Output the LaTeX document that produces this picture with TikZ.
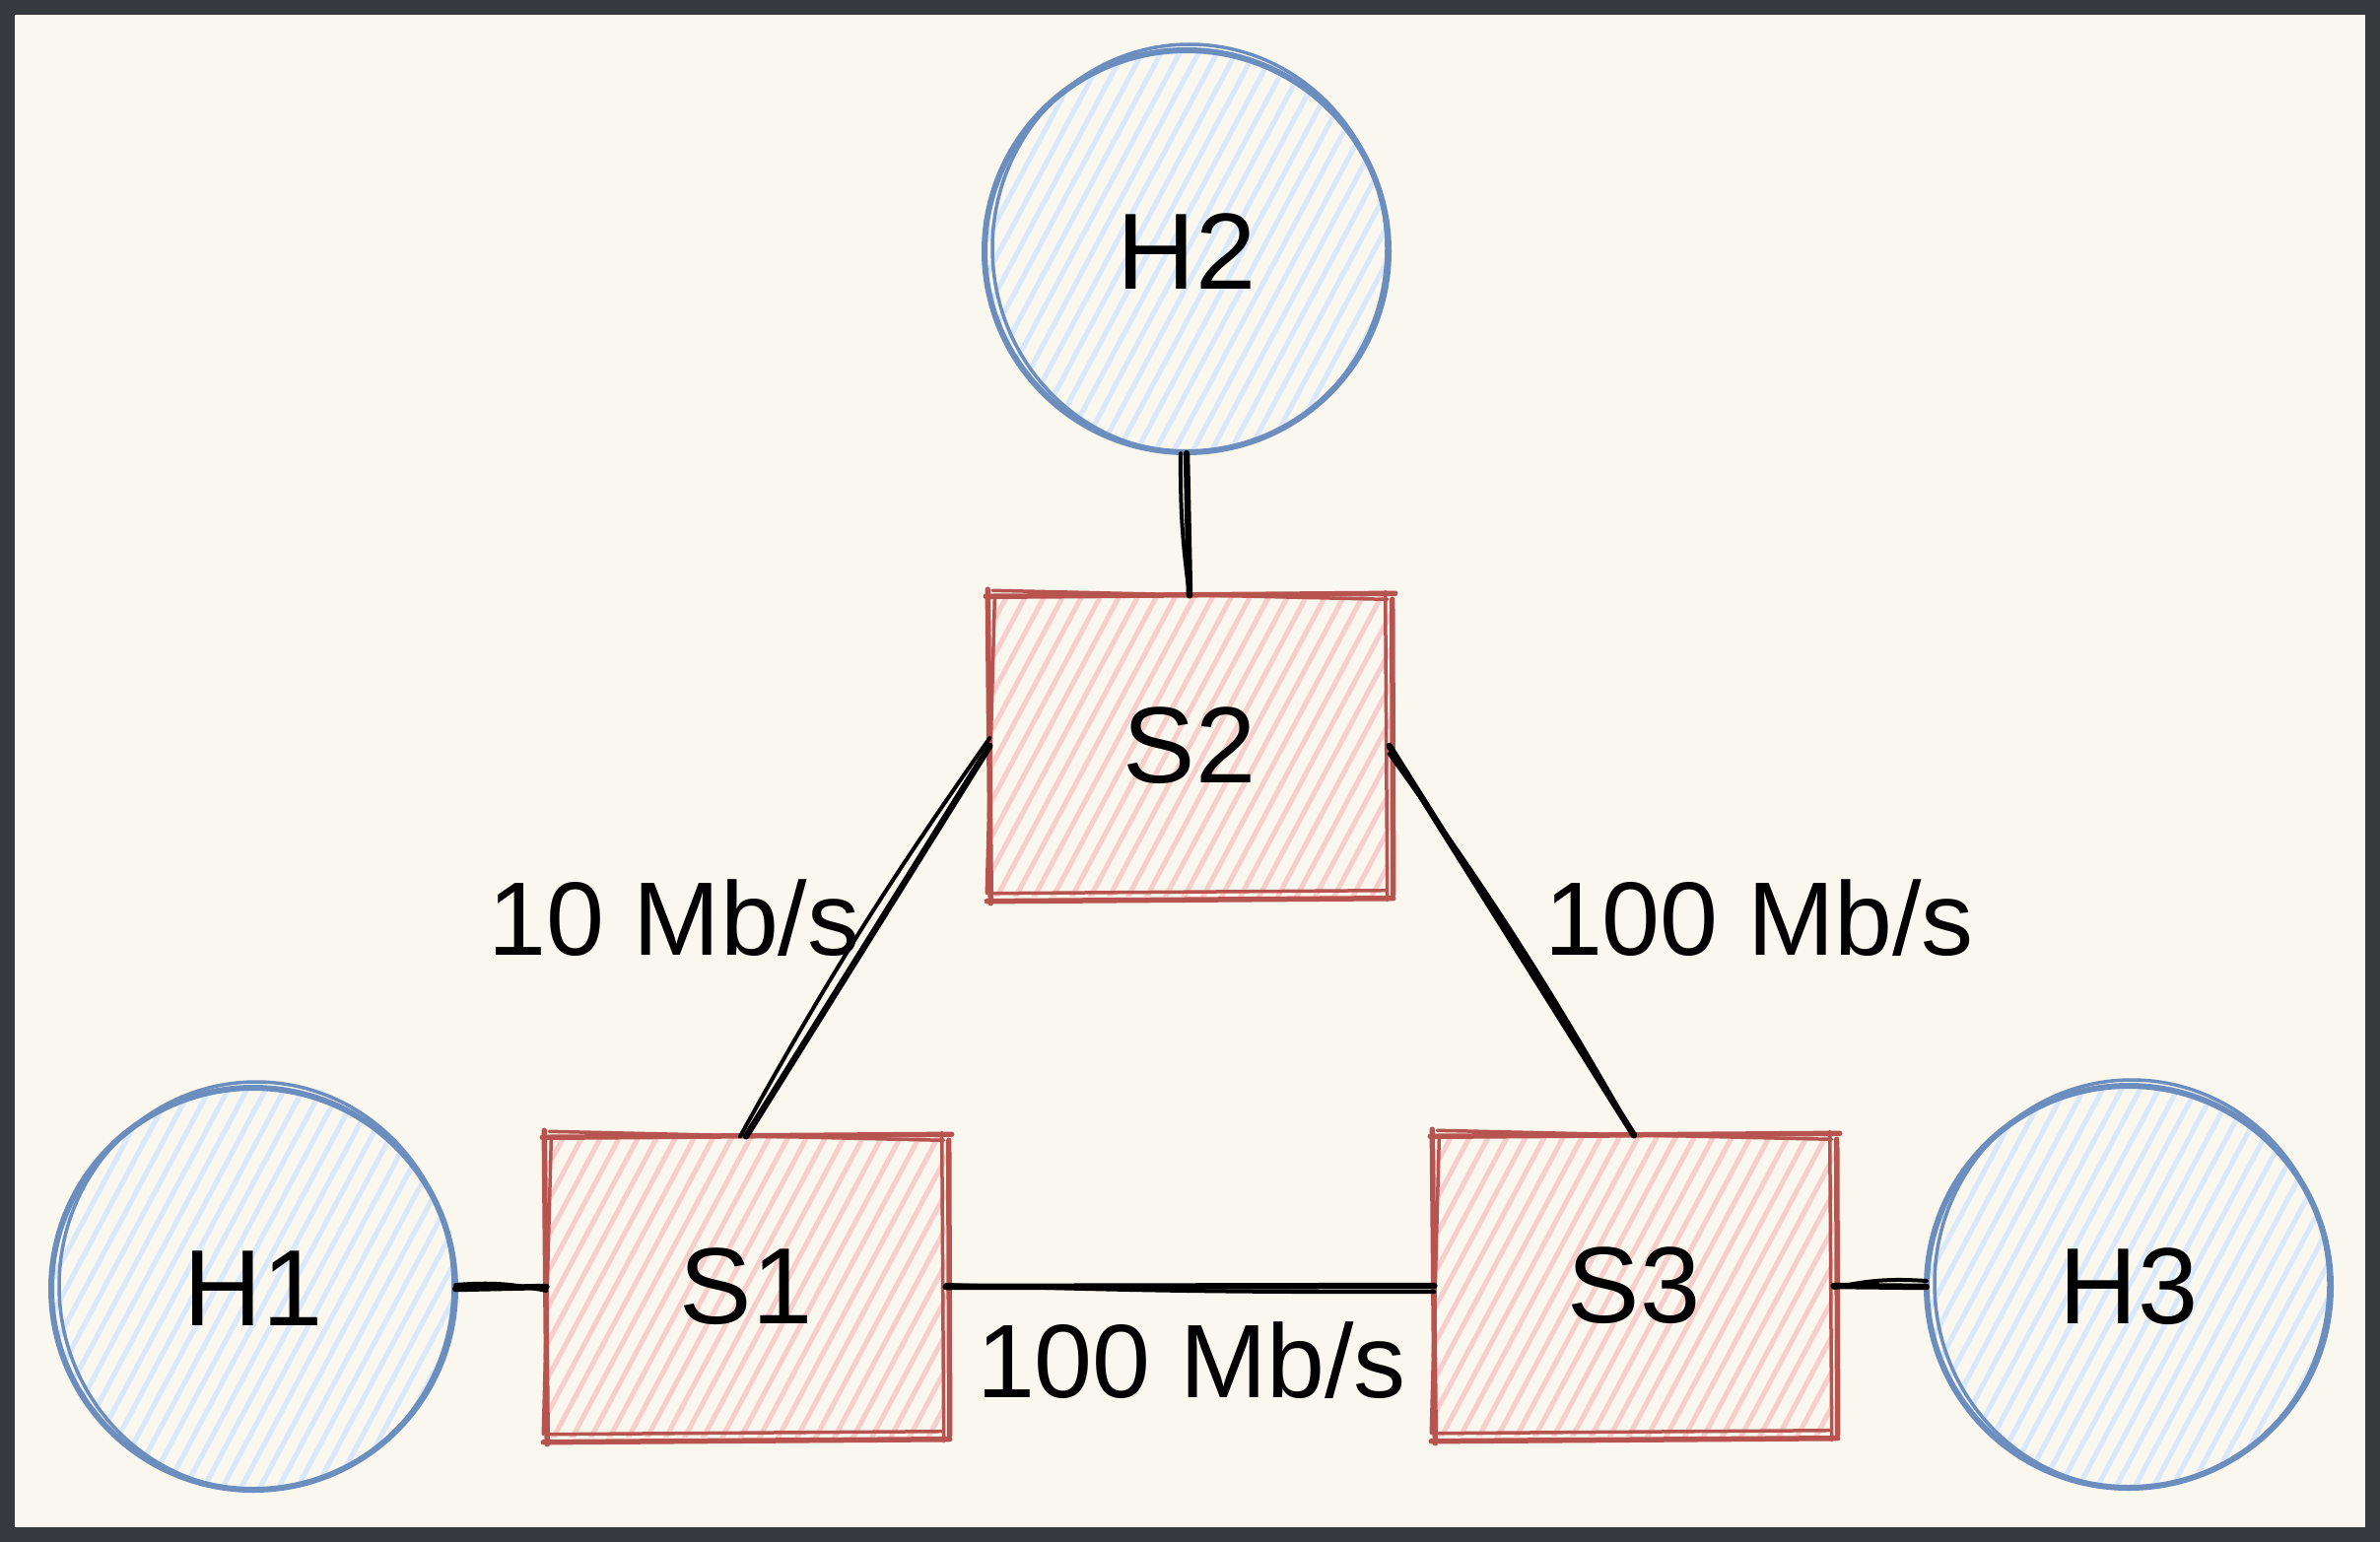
\documentclass[tikz,border=0pt]{standalone}
\usepackage{fontspec}
\setmainfont{Liberation Sans}
\usetikzlibrary{calc}
\definecolor{bgcream}{HTML}{F9F7EE}
\definecolor{frame}{HTML}{36393D}
\definecolor{hostfill}{HTML}{DAE8FC}
\definecolor{hoststroke}{HTML}{6C8EBF}
\definecolor{swfill}{HTML}{F8CECC}
\definecolor{swstroke}{HTML}{B85450}
\tikzset{
  hatchfill/.style={path picture={
      \foreach \i in {-35,...,35}{
        \draw[line width=5pt,#1,line cap=round]
          ([xshift=\i*19pt]path picture bounding box.center) ++(118:420) -- ++(-62:840);
      }}},
  hostnode/.style={circle,minimum size=410pt,inner sep=0pt,draw=none,hatchfill=hostfill,
    font=\fontsize{110}{132}\selectfont},
  swnode/.style={rectangle,minimum width=405pt,minimum height=305pt,inner sep=0pt,draw=none,hatchfill=swfill,
    font=\fontsize{110}{132}\selectfont},
  hostline/.style={draw=hoststroke,line width=6pt},
  swline/.style={draw=swstroke,line width=5.5pt,line cap=round},
  linkline/.style={draw=black,line width=6.5pt,line cap=round},
  linkthin/.style={draw=black,line width=4pt,line cap=round},
  ratelabel/.style={font=\fontsize{106}{128}\selectfont,inner sep=0pt},
}
\newcommand\sketchbox[1]{%
  \draw[swline] ([shift={(-4,1)}]#1.north west) -- ([shift={(6,-2)}]#1.north east);
  \draw[swline,line width=3.5pt] ([shift={(3,-5)}]#1.north west) -- ([shift={(-2,4)}]#1.north east);
  \draw[swline] ([shift={(-3,5)}]#1.south west) -- ([shift={(4,2)}]#1.south east);
  \draw[swline,line width=3.5pt] ([shift={(2,-3)}]#1.south west) -- ([shift={(-3,-6)}]#1.south east);
  \draw[swline] ([shift={(-2,-6)}]#1.north west) -- ([shift={(1,7)}]#1.south west);
  \draw[swline,line width=3.5pt] ([shift={(5,3)}]#1.north west) -- ([shift={(-3,-3)}]#1.south west);
  \draw[swline,line width=3.5pt] ([shift={(-4,-4)}]#1.north east) -- ([shift={(-2,4)}]#1.south east);
  \draw[swline] ([shift={(3,4)}]#1.north east) -- ([shift={(4,-2)}]#1.south east);
}
\newcommand\sketchcircle[1]{%
  \draw[hostline] (#1.center) circle[x radius=205pt,y radius=204pt];
  \draw[hostline,line width=3.5pt] ([shift={(3,-3)}]#1.center) circle[x radius=200pt,y radius=207pt];
}
\begin{document}
\begin{tikzpicture}[x=1pt,y=-1pt]
  \useasboundingbox (0,0) rectangle (2415,1565);
  \fill[frame] (0,0) rectangle (2415,1565);
  \fill[bgcream] (15,15) rectangle (2400,1550);

  % nodes
  \node[hostnode] (H2) at (1204,255) {H2};
  \node[hostnode] (H1) at (257,1308) {H1};
  \node[hostnode] (H3) at (2160,1306) {H3};
  \node[swnode] (S2) at (1207,757) {S2};
  \node[swnode] (S1) at (757,1306) {S1};
  \node[swnode] (S3) at (1658,1305) {S3};

  \sketchcircle{H1}
  \sketchcircle{H2}
  \sketchcircle{H3}
  \sketchbox{S1}
  \sketchbox{S2}
  \sketchbox{S3}

  % links
  \draw[linkline] (H2.south) -- (S2.north);
  \draw[linkthin] ([xshift=-6pt]H2.south) to[bend right=4] (S2.north);
  \draw[linkline] (S1.north) -- (S2.west);
  \draw[linkthin] ([xshift=-6pt]S1.north) to[bend left=3] ([yshift=8pt]S2.west);
  \draw[linkline] (S2.east) -- (S3.north);
  \draw[linkthin] ([yshift=-8pt]S2.east) to[bend left=3] (S3.north);
  \draw[linkline] (H1.east) -- (S1.west);
  \draw[linkthin] ([yshift=4pt]H1.east) to[bend left=8] ([yshift=-4pt]S1.west);
  \draw[linkline] (S1.east) -- (S3.west);
  \draw[linkthin] ([yshift=2pt]S1.east) to[bend right=1] ([yshift=-6pt]S3.west);
  \draw[linkline] (S3.east) -- (H3.west);
  \draw[linkthin] ([yshift=-2pt]S3.east) to[bend left=8] ([yshift=6pt]H3.west);

  % labels
  \node[ratelabel] (L12) at (684,932) {10 Mb/s};
  \node[ratelabel] (L23) at (1785,932) {100 Mb/s};
  \node[ratelabel] (L13) at (1209,1381) {100 Mb/s};
\end{tikzpicture}
\end{document}
